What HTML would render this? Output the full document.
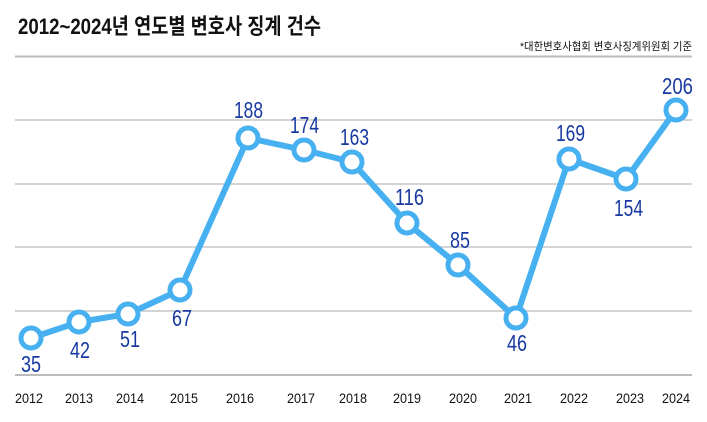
<html><head><style>body{margin:0;background:#fff}svg{display:block}</style></head><body>
<svg width="707" height="422" xmlns="http://www.w3.org/2000/svg" font-family="'Liberation Sans','Noto Sans CJK KR',sans-serif">
<text x="18" y="34" font-size="22" font-weight="bold" fill="#111" textLength="303" lengthAdjust="spacingAndGlyphs">2012~2024년 연도별 변호사 징계 건수</text>
<text x="692" y="50" font-size="11" fill="#111" text-anchor="end" textLength="172" lengthAdjust="spacingAndGlyphs">*대한변호사협회 변호사징계위원회 기준</text>
<g stroke="#aaa" stroke-width="1">
<line x1="15" x2="692" y1="120" y2="120"/><line x1="15" x2="692" y1="184" y2="184"/><line x1="15" x2="692" y1="247" y2="247"/><line x1="15" x2="692" y1="311" y2="311"/>
</g>
<line x1="15" x2="692" y1="56.5" y2="56.5" stroke="#bbb" stroke-width="2"/>
<line x1="15" x2="692" y1="375" y2="375" stroke="#bbb" stroke-width="2"/>
<polyline fill="none" stroke="#46b0f0" stroke-width="6" stroke-linejoin="round" points="31,338 79,322 128,314 180,290 248,138 304,150 352,162 407,223 458,265 516,318 569,159 626,179 676,110"/>
<g fill="#fff" stroke="#46b0f0" stroke-width="5">
<circle cx="31" cy="338" r="10"/><circle cx="79" cy="322" r="10"/><circle cx="128" cy="314" r="10"/><circle cx="180" cy="290" r="10"/><circle cx="248" cy="138" r="10"/><circle cx="304" cy="150" r="10"/><circle cx="352" cy="162" r="10"/><circle cx="407" cy="223" r="10"/><circle cx="458" cy="265" r="10"/><circle cx="516" cy="318" r="10"/><circle cx="569" cy="159" r="10"/><circle cx="626" cy="179" r="10"/><circle cx="676" cy="110" r="10"/>
</g>
<g fill="#1638a0" font-size="23">
<text x="21" y="372" textLength="20" lengthAdjust="spacingAndGlyphs">35</text>
<text x="70" y="358" textLength="20" lengthAdjust="spacingAndGlyphs">42</text>
<text x="120" y="347" textLength="20" lengthAdjust="spacingAndGlyphs">51</text>
<text x="172" y="326" textLength="20" lengthAdjust="spacingAndGlyphs">67</text>
<text x="234" y="118" textLength="29" lengthAdjust="spacingAndGlyphs">188</text>
<text x="290" y="133" textLength="29" lengthAdjust="spacingAndGlyphs">174</text>
<text x="340" y="145" textLength="29" lengthAdjust="spacingAndGlyphs">163</text>
<text x="395" y="205" textLength="29" lengthAdjust="spacingAndGlyphs">116</text>
<text x="450" y="248" textLength="20" lengthAdjust="spacingAndGlyphs">85</text>
<text x="507" y="351" textLength="20" lengthAdjust="spacingAndGlyphs">46</text>
<text x="556" y="141" textLength="29" lengthAdjust="spacingAndGlyphs">169</text>
<text x="614" y="216" textLength="29" lengthAdjust="spacingAndGlyphs">154</text>
<text x="662" y="94" textLength="31" lengthAdjust="spacingAndGlyphs">206</text>
</g>
<g fill="#111" font-size="14">
<text x="15" y="403" textLength="28" lengthAdjust="spacingAndGlyphs">2012</text>
<text x="65" y="403" textLength="28" lengthAdjust="spacingAndGlyphs">2013</text>
<text x="116" y="403" textLength="28" lengthAdjust="spacingAndGlyphs">2014</text>
<text x="170" y="403" textLength="28" lengthAdjust="spacingAndGlyphs">2015</text>
<text x="226" y="403" textLength="28" lengthAdjust="spacingAndGlyphs">2016</text>
<text x="287" y="403" textLength="28" lengthAdjust="spacingAndGlyphs">2017</text>
<text x="339" y="403" textLength="28" lengthAdjust="spacingAndGlyphs">2018</text>
<text x="393" y="403" textLength="28" lengthAdjust="spacingAndGlyphs">2019</text>
<text x="449" y="403" textLength="28" lengthAdjust="spacingAndGlyphs">2020</text>
<text x="504" y="403" textLength="28" lengthAdjust="spacingAndGlyphs">2021</text>
<text x="560" y="403" textLength="28" lengthAdjust="spacingAndGlyphs">2022</text>
<text x="616" y="403" textLength="28" lengthAdjust="spacingAndGlyphs">2023</text>
<text x="662" y="403" textLength="28" lengthAdjust="spacingAndGlyphs">2024</text>
</g>
</svg>
</body></html>
